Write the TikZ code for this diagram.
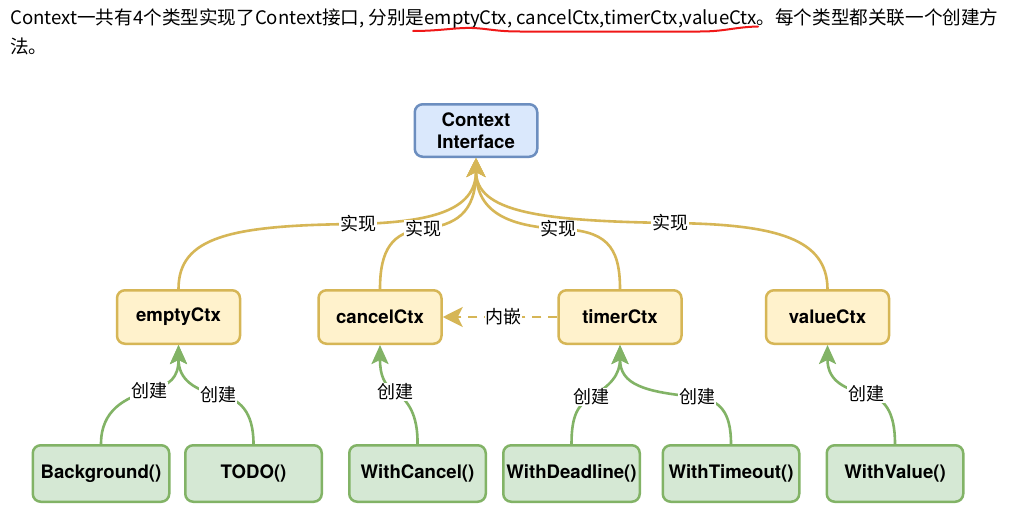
\documentclass[tikz,border=0pt]{standalone}
\usepackage{fontspec}
\setmainfont{TeX Gyre Heros}
\newfontfamily\cjk{Noto Sans CJK SC}
\usetikzlibrary{arrows.meta}
\definecolor{ybd}{HTML}{D6B656}
\definecolor{yfl}{HTML}{FFF2CC}
\definecolor{bbd}{HTML}{6C8EBF}
\definecolor{bfl}{HTML}{DAE8FC}
\definecolor{gbd}{HTML}{82B366}
\definecolor{gfl}{HTML}{D5E8D4}
\definecolor{redline}{HTML}{F01818}
\begin{document}
\begin{tikzpicture}[x=1pt,y=-1pt,
  box/.style={draw, rounded corners=8pt, line width=2.5pt, font=\bfseries\fontsize{18.6}{22}\selectfont, align=center, inner sep=0pt},
  bbox/.style={box, draw=bbd, fill=bfl, minimum width=122.5pt, minimum height=52.5pt},
  ybox/.style={box, draw=ybd, fill=yfl, minimum width=123pt, minimum height=53.5pt},
  gbox/.style={box, draw=gbd, fill=gfl, minimum width=136.5pt, minimum height=56.5pt},
  yedge/.style={draw=ybd, line width=2.6pt, -{Stealth[length=19pt,width=19pt,inset=5pt]}},
  gedge/.style={draw=gbd, line width=2.6pt, -{Stealth[length=19pt,width=17pt,inset=4pt]}},
  dedge/.style={draw=ybd, line width=2.6pt, dash pattern=on 9pt off 7pt, -{Stealth[length=20pt,width=20pt,inset=5pt]}},
  lab/.style={fill=white, inner sep=0.8pt, font=\cjk\fontsize{18}{20}\selectfont},
  para/.style={anchor=base west, inner sep=0pt, font=\cjk\fontsize{18.6}{29}\selectfont}
]
\useasboundingbox (0,0) rectangle (1022,522);
\fill[white] (0,0) rectangle (1022,522);

% paragraph
\node[para] (t1) at (10,24.5) {Context一共有4个类型实现了Context接口, 分别是emptyCtx, cancelCtx,timerCtx,valueCtx。每个类型都关联一个创建方};
\node[para] (t2) at (10,53.5) {法。};
\draw[redline, line width=2pt, line cap=round] (413,31) .. controls (440,31) and (455,27.5) .. (472,28) .. controls (488,28.5) and (495,31.5) .. (520,31.5) -- (700,31.5) .. controls (725,31.5) and (735,27) .. (758,26.5);

% nodes
\node[bbox] (ctx) at (476,130.5) {Context\\Interface};
\node[ybox] (empty) at (178.5,317) {emptyCtx};
\node[ybox] (cancel) at (380,317) {cancelCtx};
\node[ybox] (timer) at (620,317) {timerCtx};
\node[ybox] (value) at (827.5,317) {valueCtx};
\node[gbox] (bg) at (101,473.5) {Background()};
\node[gbox] (todo) at (253.5,473.5) {TODO()};
\node[gbox] (wc) at (417.5,473.5) {WithCancel()};
\node[gbox] (wd) at (571.5,473.5) {WithDeadline()};
\node[gbox] (wt) at (731,473.5) {WithTimeout()};
\node[gbox] (wv) at (895,473.5) {WithValue()};

% implementation edges
\draw[yedge] (empty.north) .. controls (178.5,237) and (230,225) .. (358,224) node[lab] (l1) {实现}
  .. controls (430,222) and (476,211) .. (ctx.south);
\draw[yedge] (cancel.north) .. controls (380,250) and (392,232) .. (423,229) node[lab] (l2) {实现}
  .. controls (455,225) and (476,214) .. (ctx.south);
\draw[yedge] (timer.north) .. controls (620,245) and (605,230) .. (558,229) node[lab] (l3) {实现}
  .. controls (515,226) and (476,216) .. (ctx.south);
\draw[yedge] (value.north) .. controls (827,240) and (780,224) .. (670,223) node[lab] (l4) {实现}
  .. controls (540,221) and (476,212) .. (ctx.south);

% embedding
\draw[dedge] (timer.west) -- (cancel.east) node[lab, pos=0.47] (l5) {内嵌};

% creation edges
\draw[gedge] (bg.north) .. controls (101,410) and (125,398) .. (149,391) node[lab] (c1) {创建}
  .. controls (170,385) and (178.5,378) .. (empty.south);
\draw[gedge] (todo.north) .. controls (253.5,412) and (240,398) .. (218,395) node[lab] (c2) {创建}
  .. controls (195,390) and (178.5,380) .. (empty.south);
\draw[gedge] (wc.north) .. controls (418,415) and (408,400) .. (395,392) node[lab] (c3) {创建}
  .. controls (384,385) and (380,375) .. (cancel.south);
\draw[gedge] (wd.north) .. controls (571.5,415) and (578,405) .. (591,397) node[lab] (c4) {创建}
  .. controls (610,386) and (620,375) .. (timer.south);
\draw[gedge] (wt.north) .. controls (731,412) and (720,400) .. (697,397) node[lab] (c5) {创建}
  .. controls (645,392) and (620,385) .. (timer.south);
\draw[gedge] (wv.north) .. controls (895,412) and (885,398) .. (866,394) node[lab] (c6) {创建}
  .. controls (840,388) and (827.5,378) .. (value.south);
\end{tikzpicture}
\end{document}
